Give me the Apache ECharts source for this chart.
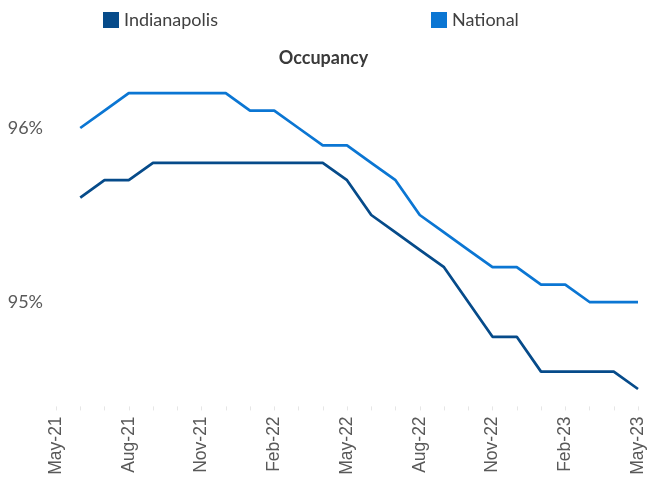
<!DOCTYPE html>
<html>
<head>
<meta charset="utf-8">
<script src="https://cdn.jsdelivr.net/npm/echarts@6/dist/echarts.min.js"></script>
<style>
  html, body { margin: 0; padding: 0; background: #fff; }
  #chart { width: 647px; height: 482px; }
</style>
</head>
<body>
<div id="chart"></div>
<script>
// months on the axis (data starts Jun-21)
var months = ['May-21','Jun-21','Jul-21','Aug-21','Sep-21','Oct-21','Nov-21','Dec-21',
  'Jan-22','Feb-22','Mar-22','Apr-22','May-22','Jun-22','Jul-22','Aug-22','Sep-22','Oct-22',
  'Nov-22','Dec-22','Jan-23','Feb-23','Mar-23','Apr-23','May-23'];

// occupancy in %
var indianapolis = ['-', 95.6, 95.7, 95.7, 95.8, 95.8, 95.8, 95.8, 95.8, 95.8, 95.8, 95.8, 95.7,
  95.5, 95.4, 95.3, 95.2, 95.0, 94.8, 94.8, 94.6, 94.6, 94.6, 94.6, 94.5];
var national = ['-', 96.0, 96.1, 96.2, 96.2, 96.2, 96.2, 96.2, 96.1, 96.1, 96.0, 95.9, 95.9,
  95.8, 95.7, 95.5, 95.4, 95.3, 95.2, 95.2, 95.1, 95.1, 95.0, 95.0, 95.0];

var yTicks = [95, 96];

var chart = echarts.init(document.getElementById('chart'));

var option = {
  animation: false,
  title: {
    text: 'Occupancy',
    left: 'center',
    top: 44,
    textStyle: { fontFamily: 'Lato', fontWeight: 'bold', fontSize: 18, color: '#3a3a3a' }
  },
  legend: [
    {
      data: ['Indianapolis'],
      left: 98, top: 6,
      itemWidth: 16, itemHeight: 16, icon: 'rect',
      textStyle: { fontFamily: 'Lato', fontSize: 18, color: '#404040' }
    },
    {
      data: ['National'],
      left: 426, top: 6,
      itemWidth: 16, itemHeight: 16, icon: 'rect',
      textStyle: { fontFamily: 'Lato', fontSize: 18, color: '#404040' }
    }
  ],
  grid: { left: 56, right: 8, top: 23.6, bottom: 75.6 },
  xAxis: {
    type: 'category',
    data: months,
    boundaryGap: false,
    axisLine: { show: false },
    axisTick: { show: true, length: 4, interval: 0, lineStyle: { color: '#e6e6e6' } },
    axisLabel: {
      rotate: 90,
      interval: 2,
      margin: 10,
      fontFamily: 'Liberation Sans',
      fontSize: 17.5,
      color: '#595959'
    }
  },
  yAxis: {
    type: 'value',
    min: 94.4,
    max: 96.6,
    interval: 0.2,
    splitLine: { show: false },
    axisLine: { show: false },
    axisTick: { show: false },
    axisLabel: {
      margin: 13,
      fontFamily: 'Lato',
      fontSize: 18,
      color: '#595959',
      formatter: function (v) {
        var r = Math.round(v * 10) / 10;
        return yTicks.indexOf(r) >= 0 ? r + '%' : '';
      }
    }
  },
  series: [
    {
      name: 'Indianapolis',
      type: 'line',
      data: indianapolis,
      symbol: 'none',
      color: '#064B8A',
      lineStyle: { width: 2.75, color: '#064B8A' }
    },
    {
      name: 'National',
      type: 'line',
      data: national,
      symbol: 'none',
      color: '#0B76D3',
      lineStyle: { width: 2.75, color: '#0B76D3' }
    }
  ]
};

chart.setOption(option);
</script>
</body>
</html>
